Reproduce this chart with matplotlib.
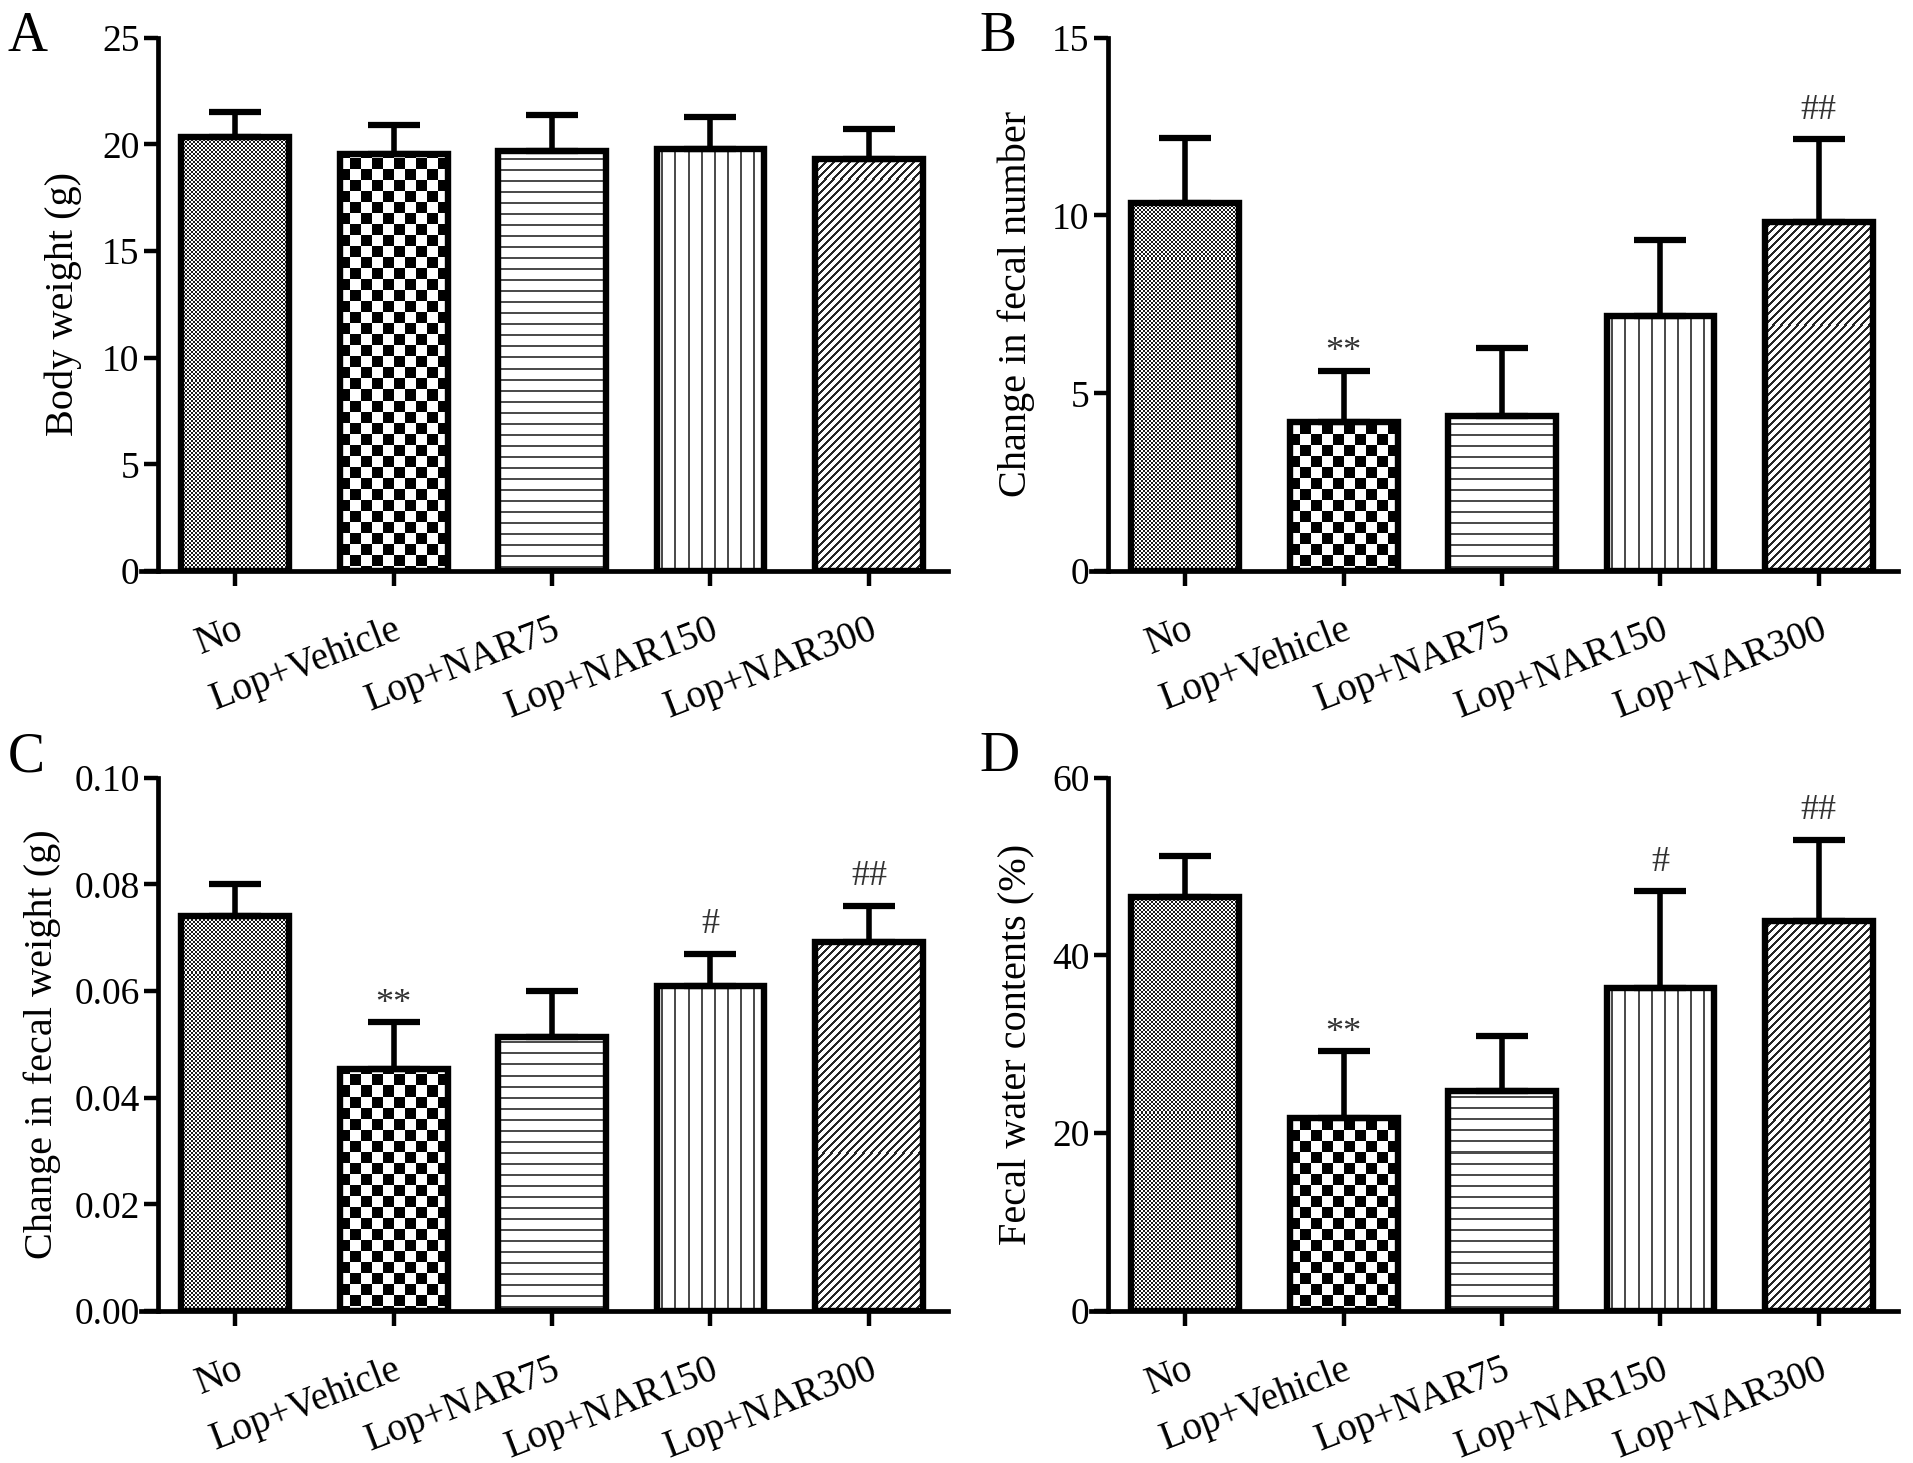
import numpy as np
import matplotlib
matplotlib.use("Agg")
import matplotlib.pyplot as plt
from matplotlib.ticker import FormatStrFormatter

plt.rcParams['font.family'] = ['Liberation Serif', 'DejaVu Serif']

groups = ['No', 'Lop+Vehicle', 'Lop+NAR75', 'Lop+NAR150', 'Lop+NAR300']

# A - body weight (g)
body_weight = [20.35, 19.55, 19.7, 19.8, 19.3]
body_weight_sd = [1.15, 1.35, 1.7, 1.5, 1.4]

# B - change in fecal number
fecal_number = [10.34, 4.18, 4.35, 7.17, 9.83]
fecal_number_sd = [1.84, 1.46, 1.92, 2.13, 2.31]

# C - change in fecal weight (g)
fecal_weight = [0.0740, 0.0453, 0.0513, 0.0610, 0.0692]
fecal_weight_sd = [0.0060, 0.0088, 0.0087, 0.0059, 0.0067]

# D - fecal water contents (%)
water = [46.6, 21.7, 24.8, 36.3, 43.9]
water_sd = [4.6, 7.5, 6.1, 10.9, 9.1]

marks_a = ['', '', '', '', '']
marks_b = ['', '**', '', '', '##']
marks_c = ['', '**', '', '#', '##']
marks_d = ['', '**', '', '#', '##']

W, H = 1913, 1463
fig = plt.figure(figsize=(W / 100, H / 100), dpi=100)

XMIN, XMAX, YAX = -0.595, 4.5, -0.49
BAR_W = 0.68


def texture(kind, h, w):
    # fill patterns of the five groups, one value per screen pixel
    i, j = np.mgrid[0:h, 0:w]
    img = np.ones((h, w))
    if kind == 0:
        img[((i // 2 + j // 2) % 2) == 0] = 0.1
    elif kind == 1:
        img[((i // 11 + j // 11) % 2) == 0] = 0.0
    elif kind == 2:
        img[(i % 11) < 2] = 0.3
    elif kind == 3:
        img[(j % 13) < 2] = 0.3
    else:
        img[((i + j) % 8) < 3] = 0.15
    return img


def panel(rect, means, sds, ymax, step, ylabel, marks, letter, letter_xy, label_x, fmt=None):
    ax = fig.add_axes(rect)
    x = np.arange(len(groups))
    ax.set_xlim(XMIN, XMAX)
    ax.set_ylim(0, ymax)

    pos = ax.get_position()
    wpx = int(round(pos.width * W))
    hpx = int(round(pos.height * H))

    fills = ax.bar(x, means, BAR_W, color='white', edgecolor='none', zorder=1)
    for k, p in enumerate(fills):
        im = ax.imshow(texture(k, hpx, wpx), cmap='gray', vmin=0, vmax=1,
                       extent=(XMIN, XMAX, 0, ymax), origin='upper',
                       interpolation='nearest', aspect='auto', zorder=1.5)
        im.set_clip_path(p)

    ax.errorbar(x, means, yerr=[np.zeros(len(sds)), sds], fmt='none',
                ecolor='black', elinewidth=4, capsize=19, capthick=4.5, zorder=2.5)
    ax.bar(x, means, BAR_W, fill=False, edgecolor='black', linewidth=4.6, zorder=3)

    ax.set_xlim(XMIN, XMAX)
    ax.set_ylim(0, ymax)

    offs = {'**': 7, '#': 15, '##': 15}
    for xi, m, s, t in zip(x, means, sds, marks):
        if t:
            ax.annotate(t, (xi, m + s), xytext=(0, offs[t]), textcoords='offset points',
                        ha='center', va='baseline', fontsize=26, color='#333333')

    for side in ['top', 'right']:
        ax.spines[side].set_visible(False)
    ax.spines['left'].set_position(('data', YAX))
    ax.spines['left'].set_linewidth(3.4)
    ax.spines['bottom'].set_linewidth(3.4)

    ax.set_yticks(np.arange(0, ymax + step / 2, step))
    if fmt:
        ax.yaxis.set_major_formatter(FormatStrFormatter(fmt))
    ax.set_xticks(x)
    ax.set_xticklabels(groups, rotation=21, ha='right', rotation_mode='anchor')
    ax.tick_params(axis='y', direction='out', length=10, width=3.2, labelsize=27, pad=3)
    ax.tick_params(axis='x', direction='out', length=11, width=3.2, labelsize=28, pad=18)

    fig.text(label_x, pos.y0 + pos.height / 2, ylabel, rotation=90,
             ha='center', va='center', fontsize=29)
    fig.text(letter_xy[0], letter_xy[1], letter, fontsize=40, va='baseline', ha='left')
    return ax


top_b, bot_b, hgt = 0.6097, 0.1039, 0.3645
lft_a, lft_b, wid = 0.0737, 0.5703, 0.4219

panel([lft_a, top_b, wid, hgt], body_weight, body_weight_sd, 25, 5,
      'Body weight (g)', marks_a, 'A', (0.004, 1 - 51 / H), 63 / W)
panel([lft_b, top_b, wid, hgt], fecal_number, fecal_number_sd, 15, 5,
      'Change in fecal number', marks_b, 'B', (979 / W, 1 - 51 / H), 1016 / W)
panel([lft_a, bot_b, wid, hgt], fecal_weight, fecal_weight_sd, 0.10, 0.02,
      'Change in fecal weight (g)', marks_c, 'C', (0.004, 1 - 771 / H), 42 / W, fmt='%.2f')
panel([lft_b, bot_b, wid, hgt], water, water_sd, 60, 20,
      'Fecal water contents (%)', marks_d, 'D', (979 / W, 1 - 771 / H), 1016 / W)

fig.savefig('out.png', dpi=100)
